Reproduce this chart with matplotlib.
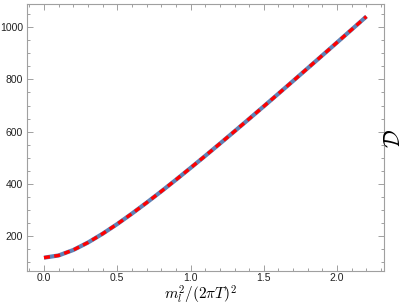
import numpy as np
import matplotlib
matplotlib.use("Agg")
import matplotlib.pyplot as plt
from matplotlib.ticker import MultipleLocator

# values
x_vals = [0.0, 0.1, 0.2, 0.3, 0.4, 0.5, 0.6, 0.7, 0.8, 0.9, 1.0, 1.1,
          1.2, 1.3, 1.4, 1.5, 1.6, 1.7, 1.8, 1.9, 2.0, 2.1, 2.2]
d_vals = [117, 125.6, 146.5, 175.1, 208.8, 246.0, 285.9, 327.7, 371.0,
          415.4, 460.9, 507.0, 553.9, 601.2, 649.0, 697.1, 745.6, 794.3,
          843.3, 892.5, 941.9, 991.4, 1041.1]

plt.rcParams['mathtext.fontset'] = 'cm'
plt.rcParams['font.family'] = ['Liberation Sans', 'DejaVu Sans']

fig = plt.figure(figsize=(4.04, 3.08), dpi=100)
ax = fig.add_axes([27/404, 37/308, 357/404, 267/308])

ax.plot(x_vals, d_vals, color='#5e81b5', lw=3.0, solid_capstyle='butt')
ax.plot(x_vals, d_vals, color='#ff0000', lw=2.4, dashes=(1.8, 1.3))

ax.set_xlim(-0.116, 2.32)
ax.set_ylim(66, 1089)

frame = '#a0a0a0'
for s in ax.spines.values():
    s.set_color(frame)
    s.set_linewidth(0.8)

ax.xaxis.set_major_locator(MultipleLocator(0.5))
ax.xaxis.set_minor_locator(MultipleLocator(0.1))
ax.yaxis.set_major_locator(MultipleLocator(200))
ax.yaxis.set_minor_locator(MultipleLocator(50))
ax.xaxis.set_major_formatter(matplotlib.ticker.FormatStrFormatter('%.1f'))

ax.tick_params(which='both', direction='in', top=True, right=True,
               color=frame, labelcolor='#222222', labelsize=7.5, width=0.7)
ax.tick_params(which='major', length=4, pad=3)
ax.tick_params(axis='x', which='major', pad=1.5)
ax.tick_params(which='minor', length=2.2)

# labels pulled just inside the canvas edges
fig.text(200/404, 1 - 306.5/308, r'$m_l^2/(2\pi T)^2$', fontsize=11,
         ha='center', va='bottom')
fig.text(395/404, 1 - 138/308, r'$\mathcal{D}$', fontsize=16, rotation=90,
         ha='center', va='center')

fig.savefig('out.png', dpi=100)
